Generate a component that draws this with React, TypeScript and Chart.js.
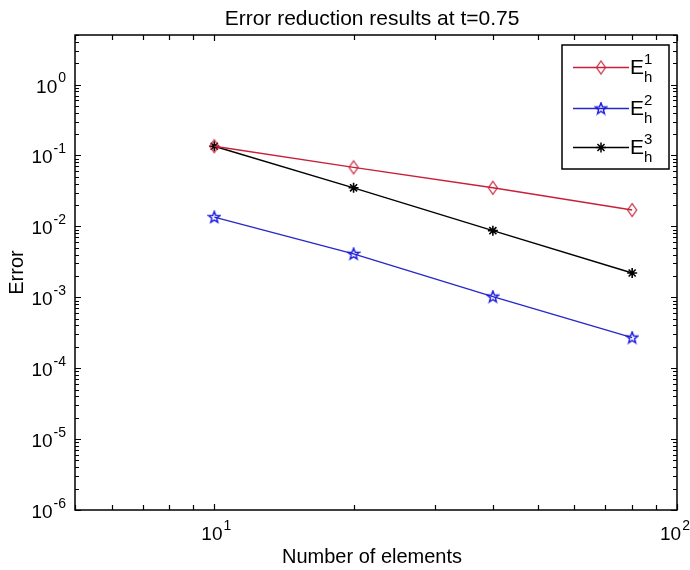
import React, { useEffect, useRef } from "react";
import { Chart, registerables } from "chart.js";
Chart.register(...registerables);

const elements = [10, 20, 40, 80];
const errE1 = [0.135, 0.068, 0.035, 0.017];
const errE2 = [0.0135, 0.0041, 0.00102, 0.00027];
const errE3 = [0.135, 0.035, 0.0087, 0.0022];
const seriesSup = ["1", "2", "3"];
const seriesColors = ["#c8203a", "#2828c8", "#000000"];
const yDecadeExps = [-6, -5, -4, -3, -2, -1, 0];
const xDecadeExps = [1, 2];
const titleText = "Error reduction results at t=0.75";
const xTitleText = "Number of elements";
const yTitleText = "Error";
const X_MIN = 5, X_MAX = 100, Y_MIN = 1e-6, Y_MAX = 5;
const FONT = "'Liberation Sans', Arial, sans-serif";

function makeDiamond(color: string) {
  const c = document.createElement("canvas");
  c.width = 12; c.height = 16;
  const g = c.getContext("2d")!;
  g.strokeStyle = color; g.lineWidth = 1.2;
  g.beginPath();
  g.moveTo(6, 1.5); g.lineTo(10.5, 8); g.lineTo(6, 14.5); g.lineTo(1.5, 8); g.closePath();
  g.stroke();
  return c;
}
function makePentagram(color: string) {
  const c = document.createElement("canvas");
  c.width = 14; c.height = 14;
  const g = c.getContext("2d")!;
  g.strokeStyle = color; g.lineWidth = 1.4;
  const R = 6, r = R * 0.42, cx = 7, cy = 7.3;
  g.beginPath();
  for (let i = 0; i < 10; i++) {
    const ang = -Math.PI / 2 + (i * Math.PI) / 5;
    const rad = i % 2 === 0 ? R : r;
    const px = cx + rad * Math.cos(ang), py = cy + rad * Math.sin(ang);
    if (i === 0) g.moveTo(px, py); else g.lineTo(px, py);
  }
  g.closePath(); g.stroke();
  return c;
}

function drawSup(ctx: CanvasRenderingContext2D, base: string, sup: string, x: number, y: number, align: "center" | "right", size: number) {
  ctx.font = `${size}px ${FONT}`;
  const wb = ctx.measureText(base).width;
  const ss = Math.round(size * 0.72);
  ctx.font = `${ss}px ${FONT}`;
  const ws = ctx.measureText(sup).width;
  const total = wb + ws + 1;
  const x0 = align === "center" ? x - total / 2 : x - total;
  ctx.textAlign = "left";
  ctx.textBaseline = "alphabetic";
  ctx.font = `${size}px ${FONT}`;
  ctx.fillText(base, x0, y);
  ctx.font = `${ss}px ${FONT}`;
  ctx.fillText(sup, x0 + wb + 1, y - size * 0.55);
}

const framePlugin = {
  id: "matlabFrame",
  afterDraw(chart: any) {
    const { ctx, chartArea: a, scales } = chart;
    const xs = scales.x, ys = scales.y;
    ctx.save();
    ctx.strokeStyle = "#000";
    ctx.fillStyle = "#000";
    ctx.lineWidth = 1.5;
    ctx.strokeRect(a.left, a.top, a.right - a.left, a.bottom - a.top);
    ctx.lineWidth = 1.2;
    ctx.beginPath();
    for (const e of yDecadeExps) {
      for (let m = 1; m <= 9; m++) {
        const v = m * Math.pow(10, e);
        if (v < Y_MIN || v > Y_MAX) continue;
        const py = Math.round(ys.getPixelForValue(v)) + 0.5;
        const len = m === 1 ? 6 : 4;
        ctx.moveTo(a.left, py); ctx.lineTo(a.left + len, py);
        ctx.moveTo(a.right, py); ctx.lineTo(a.right - len, py);
      }
    }
    for (const e of [0, ...xDecadeExps]) {
      for (let m = 1; m <= 9; m++) {
        const v = m * Math.pow(10, e);
        if (v < X_MIN || v > X_MAX) continue;
        const px = Math.round(xs.getPixelForValue(v)) + 0.5;
        const len = m === 1 ? 6 : 5;
        ctx.moveTo(px, a.bottom); ctx.lineTo(px, a.bottom - len);
        ctx.moveTo(px, a.top); ctx.lineTo(px, a.top + len);
      }
    }
    ctx.stroke();

    for (const e of yDecadeExps) {
      const py = ys.getPixelForValue(Math.pow(10, e));
      drawSup(ctx, "10", String(e), a.left - 9, py + 8, "right", 19);
    }
    xDecadeExps.forEach((e, i) => {
      const px = xs.getPixelForValue(Math.pow(10, e));
      drawSup(ctx, "10", String(e), px + (i === xDecadeExps.length - 1 ? -2 : 2), a.bottom + 30, "center", 19);
    });

    ctx.textAlign = "center";
    ctx.textBaseline = "alphabetic";
    ctx.font = `21px ${FONT}`;
    ctx.fillText(titleText, (a.left + a.right) / 2 - 4, 25);
    ctx.font = `20px ${FONT}`;
    ctx.fillText(xTitleText, (a.left + a.right) / 2 - 4, 563);
    ctx.save();
    ctx.translate(23, (a.top + a.bottom) / 2);
    ctx.rotate(-Math.PI / 2);
    ctx.fillText(yTitleText, 0, 0);
    ctx.restore();

    const lx = 562, ly = 45, lw = 107, lh = 124;
    ctx.fillStyle = "#fff";
    ctx.fillRect(lx, ly, lw, lh);
    ctx.lineWidth = 1.5;
    ctx.strokeStyle = "#000";
    ctx.strokeRect(lx, ly, lw, lh);
    const rows = [67, 108, 147];
    chart.data.datasets.forEach((ds: any, i: number) => {
      const yy = rows[i] + 0.5;
      ctx.strokeStyle = ds.borderColor;
      ctx.lineWidth = 1.4;
      ctx.beginPath(); ctx.moveTo(573, yy); ctx.lineTo(629, yy); ctx.stroke();
      const ps = ds.pointStyle;
      if (typeof ps === "string") {
        ctx.strokeStyle = ds.pointBorderColor;
        ctx.lineWidth = 1.5;
        ctx.beginPath();
        const r = 5;
        ctx.moveTo(601 - r, yy); ctx.lineTo(601 + r, yy);
        ctx.moveTo(601, yy - r); ctx.lineTo(601, yy + r);
        const d = r * 0.7071;
        ctx.moveTo(601 - d, yy - d); ctx.lineTo(601 + d, yy + d);
        ctx.moveTo(601 - d, yy + d); ctx.lineTo(601 + d, yy - d);
        ctx.stroke();
      } else {
        ctx.drawImage(ps, 601 - ps.width / 2, yy - ps.height / 2);
      }
      ctx.fillStyle = "#000";
      ctx.textAlign = "left";
      ctx.font = `21px ${FONT}`;
      ctx.fillText("E", 630, rows[i] + 7);
      ctx.font = `15px ${FONT}`;
      ctx.fillText("h", 644, rows[i] + 15);
      ctx.fillText(seriesSup[i], 644, rows[i] - 3);
    });
    ctx.restore();
  },
};

export default function App() {
  const ref = useRef<HTMLCanvasElement>(null);
  useEffect(() => {
    const mk = (vals: number[]) => elements.map((x, i) => ({ x, y: vals[i] }));
    const chart = new Chart(ref.current!, {
      type: "line",
      data: {
        datasets: [
          { label: "E1", data: mk(errE1), borderColor: seriesColors[0], borderWidth: 1.4, pointStyle: makeDiamond("#c8203a") as any, pointRadius: 6, pointBorderColor: seriesColors[0], backgroundColor: "transparent" },
          { label: "E2", data: mk(errE2), borderColor: seriesColors[1], borderWidth: 1.4, pointStyle: makePentagram("#1a1ae0") as any, pointRadius: 6, pointBorderColor: seriesColors[1], backgroundColor: "transparent" },
          { label: "E3", data: mk(errE3), borderColor: seriesColors[2], borderWidth: 1.4, pointStyle: "star", pointRadius: 5, pointBorderWidth: 1.6, pointBorderColor: "#000", backgroundColor: "transparent" },
        ],
      },
      options: {
        responsive: false,
        animation: false,
        layout: { padding: { left: 75, right: 13, top: 35, bottom: 60 } },
        plugins: { legend: { display: false }, tooltip: { enabled: false }, title: { display: false } },
        scales: {
          x: { type: "logarithmic", min: X_MIN, max: X_MAX, display: false },
          y: { type: "logarithmic", min: Y_MIN, max: Y_MAX, display: false },
        },
      },
      plugins: [framePlugin],
    });
    return () => chart.destroy();
  }, []);
  return (
    <div style={{ position: "absolute", left: 0, top: 0, width: 690, height: 570, background: "#fff" }}>
      <canvas ref={ref} width={690} height={570} style={{ display: "block" }} />
    </div>
  );
}
